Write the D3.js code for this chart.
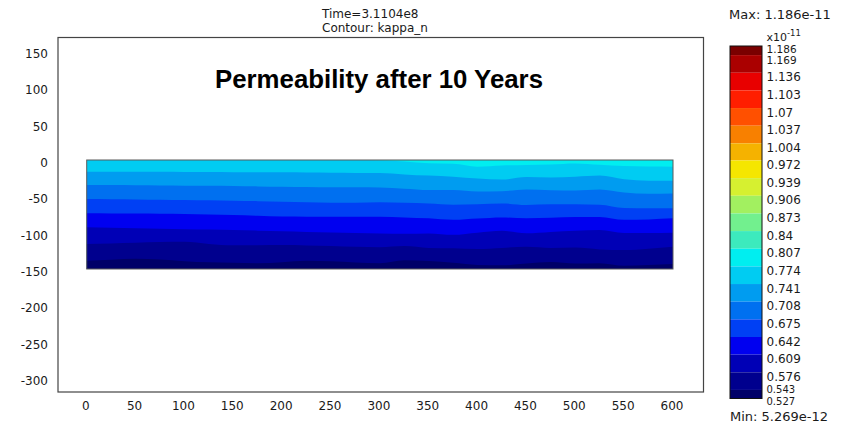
<!DOCTYPE html>
<html>
<head>
<meta charset="utf-8">
<script src="https://cdn.jsdelivr.net/npm/d3@7"></script>
<style>
  html, body { margin: 0; padding: 0; background: #fff; }
  svg { display: block; }
  text { font-family: "DejaVu Sans", Verdana, sans-serif; fill: #1a1a1a; }
</style>
</head>
<body>
<svg id="chart" width="844" height="428"></svg>
<script>
// ---- data ---------------------------------------------------------------
const timeLabel = "Time=3.1104e8";
const contourLabel = "Contour: kappa_n";
const chartTitle = "Permeability after 10 Years";
const maxLabel = "Max: 1.186e-11";
const minLabel = "Min: 5.269e-12";

// axis ticks
const xTicks = [0, 50, 100, 150, 200, 250, 300, 350, 400, 450, 500, 550, 600];
const yTicks = [150, 100, 50, 0, -50, -100, -150, -200, -250, -300];

// colour-bar levels (x1e-11), highest first
const levels = [1.186, 1.169, 1.136, 1.103, 1.07, 1.037, 1.004, 0.972, 0.939, 0.906,
                0.873, 0.84, 0.807, 0.774, 0.741, 0.708, 0.675, 0.642, 0.609, 0.576,
                0.543, 0.527];

// domain extent
const domainX = [0, 600];
const domainY = [-150, 0];

// sample positions along x for the contour boundaries
const xSamples = [0, 25, 50, 75, 100, 125, 150, 175, 200, 225, 250, 275, 300,
                  325, 350, 375, 400, 425, 450, 475, 500, 525, 550, 575, 600];

// depth of each kappa_n contour line at the sample positions
const line0774 = [0, 0, 0, 0, 0, 0, 0, 0, 0, 0, 0, 0, -0.4,
                  -2, -4.4, -5.2, -9.2, -7.6, -6.9, -6.2, -4.8, -6.6, -8.2, -9, -9.2];
const line0741 = [-16, -16, -16.2, -16.3, -16.5, -16.5, -16.8, -17, -17, -17.2, -17.5, -17.8, -18,
                  -19.8, -21.5, -23, -25.5, -27, -23.5, -24, -23, -21.5, -26.5, -28.4, -28.4];
const line0708 = [-34.4, -34.5, -34.7, -35, -35.3, -35.6, -35.8, -36.3, -36.8, -37.3, -37.6, -37.6, -38,
                  -39.5, -41.3, -41.3, -43.5, -43, -40.5, -41.5, -41.8, -40.5, -44.8, -46.5, -46];
const line0675 = [-53.7, -53.9, -54.2, -54.6, -55, -55.5, -56, -56.6, -57.3, -58.3, -59, -58.8, -58.3,
                  -59, -59.8, -61.5, -61, -59.8, -61.9, -61, -60.8, -61.5, -66, -66.5, -66.5];
const line0642 = [-73.4, -73.5, -73.7, -74, -74.3, -75, -75.8, -76.8, -77.8, -78, -78, -78, -78,
                  -79, -80.3, -82.3, -80.5, -79, -80.3, -79.5, -78.5, -78.3, -82.3, -81.8, -80.3];
const line0609 = [-92.7, -93.3, -93.9, -94.5, -95.2, -95.8, -96.5, -97.2, -98.2, -99, -99.6, -100.3, -101,
                  -101.5, -101, -103, -100, -97.5, -100.9, -99, -97.5, -96.5, -100.5, -100.5, -100];
const line0576 = [-115.6, -114.8, -113.8, -113, -112.5, -115.5, -117.4, -117.2, -117, -117.5, -118.5, -119.5, -120.2,
                  -118.5, -121, -121.5, -122.5, -121, -119.5, -121, -120.5, -123, -124, -122, -119.3];
const line0543 = [-138.5, -137.3, -136, -136.8, -139.3, -140.8, -141.5, -142.2, -140.8, -138.8, -139.5, -141, -142.2,
                  -138, -139, -141.5, -144.5, -145, -142.3, -140.5, -142.5, -142, -145.5, -144.5, -143];

// band tops from the surface downward, each with the lower level of its band
const bandTops = [
  { lower: 0.774, top: xSamples.map(() => 0) },
  { lower: 0.741, top: line0774 },
  { lower: 0.708, top: line0741 },
  { lower: 0.675, top: line0708 },
  { lower: 0.642, top: line0675 },
  { lower: 0.609, top: line0642 },
  { lower: 0.576, top: line0609 },
  { lower: 0.543, top: line0576 },
  { lower: 0.527, top: line0543 }
];

// ---- style --------------------------------------------------------------
// one colour per band, highest band first
const bandColors = ["#7a0000", "#aa0000", "#e80000", "#ff1e00", "#ff5000", "#f88000",
                    "#f5b200", "#f5e600", "#d6f030", "#a2f060", "#72f08e", "#3ceabd",
                    "#00eef0", "#00ccf2", "#009cf0", "#0070f0", "#0040f4", "#0000f0",
                    "#0000b6", "#00008e", "#000068"];

const frame = { left: 58, top: 37.5, right: 703.5, bottom: 392 };
const bar = { left: 730, right: 762, top: 46, bottom: 398.5 };

// ---- drawing ------------------------------------------------------------
const svg = d3.select("#chart");

const x = d3.scaleLinear().domain(domainX).range([86.7, 673]);
const y = d3.scaleLinear().domain(domainY).range([269, 160]);
const c = d3.scaleLinear().domain([levels[levels.length - 1], levels[0]]).range([bar.bottom, bar.top]);

function colorFor(lowerLevel) {
  const i = levels.indexOf(lowerLevel);
  return bandColors[i - 1];
}

// plain hyphen-minus labels
const plainInt = d => String(d);

// clip to the model domain
svg.append("defs").append("clipPath").attr("id", "dom")
  .append("rect")
  .attr("x", x(domainX[0])).attr("y", y(domainY[1]))
  .attr("width", x(domainX[1]) - x(domainX[0]))
  .attr("height", y(domainY[0]) - y(domainY[1]));

const field = svg.append("g").attr("clip-path", "url(#dom)");

// each band is filled from its top line down to the domain bottom,
// later (deeper) bands painted over earlier ones
const area = d3.area()
  .x((d, i) => x(xSamples[i]))
  .y0(d => y(d))
  .y1(() => y(domainY[0]))
  .curve(d3.curveMonotoneX);

bandTops.forEach(b => {
  field.append("path")
    .attr("d", area(b.top))
    .attr("fill", colorFor(b.lower));
});

// domain outline
svg.append("rect")
  .attr("x", x(domainX[0])).attr("y", y(domainY[1]))
  .attr("width", x(domainX[1]) - x(domainX[0]))
  .attr("height", y(domainY[0]) - y(domainY[1]))
  .attr("fill", "none").attr("stroke", "#5a5a5a").attr("stroke-width", 1);

// axes frame
svg.append("rect")
  .attr("x", frame.left).attr("y", frame.top)
  .attr("width", frame.right - frame.left).attr("height", frame.bottom - frame.top)
  .attr("fill", "none").attr("stroke", "#444").attr("stroke-width", 1.2);

// y axis labels
const yAxis = svg.append("g")
  .attr("transform", `translate(${frame.left},0)`)
  .call(d3.axisLeft(y).tickValues(yTicks).tickSize(0).tickPadding(10).tickFormat(plainInt));
yAxis.select(".domain").remove();
yAxis.selectAll("text")
  .attr("dy", "0.55em")
  .style("font-size", "12px")
  .style("font-family", "DejaVu Sans, Verdana, sans-serif")
  .attr("fill", "#1a1a1a");

// x axis labels
const xAxis = svg.append("g")
  .attr("transform", `translate(0,${frame.bottom})`)
  .call(d3.axisBottom(x).tickValues(xTicks).tickSize(0).tickPadding(9).tickFormat(plainInt));
xAxis.select(".domain").remove();
xAxis.selectAll("text")
  .attr("dx", "-1.5")
  .style("font-size", "12px")
  .style("font-family", "DejaVu Sans, Verdana, sans-serif")
  .attr("fill", "#1a1a1a");

// header lines
svg.append("text").attr("x", 322).attr("y", 17.5).style("font-size", "12px").text(timeLabel);
svg.append("text").attr("x", 322).attr("y", 31.8).style("font-size", "12px").text(contourLabel);

// chart title
svg.append("text")
  .attr("x", 379).attr("y", 88)
  .attr("text-anchor", "middle")
  .attr("textLength", 328).attr("lengthAdjust", "spacingAndGlyphs")
  .style("font-family", "Liberation Sans, Arial, sans-serif")
  .style("font-weight", "bold")
  .style("font-size", "26px")
  .style("fill", "#000")
  .text(chartTitle);

// colour bar
const barG = svg.append("g");
for (let i = 0; i < levels.length - 1; i++) {
  barG.append("rect")
    .attr("x", bar.left).attr("width", bar.right - bar.left)
    .attr("y", c(levels[i])).attr("height", c(levels[i + 1]) - c(levels[i]))
    .attr("fill", bandColors[i]);
}
barG.append("rect")
  .attr("x", bar.left).attr("y", bar.top)
  .attr("width", bar.right - bar.left).attr("height", bar.bottom - bar.top)
  .attr("fill", "none").attr("stroke", "#111").attr("stroke-width", 1);

// colour bar labels; the two end pairs sit closer together in a smaller size
const nLev = levels.length;
const squeezed = new Map([
  [levels[0], { centre: 49.5, size: 10.5 }],
  [levels[1], { centre: 60, size: 10.5 }],
  [levels[nLev - 2], { centre: 389.2, size: 10 }],
  [levels[nLev - 1], { centre: 401, size: 10 }]
]);
barG.selectAll("text.lev")
  .data(levels)
  .join("text")
  .attr("class", "lev")
  .attr("x", bar.right + 4.5)
  .attr("y", d => squeezed.has(d)
      ? squeezed.get(d).centre + 0.36 * squeezed.get(d).size
      : c(d) + 4.3 + 4.4)
  .style("font-size", d => (squeezed.has(d) ? squeezed.get(d).size : 12) + "px")
  .text(d => String(d));

// scale factor
const sci = svg.append("text").attr("x", 766.5).attr("y", 40.5).style("font-size", "11px");
sci.append("tspan").text("x10");
sci.append("tspan").attr("dy", -5).style("font-size", "8.5px").text("-11");

svg.append("text").attr("x", 729).attr("y", 19.4).style("font-size", "13px").text(maxLabel);
svg.append("text").attr("x", 730).attr("y", 421.4).style("font-size", "13px").text(minLabel);
</script>
</body>
</html>
